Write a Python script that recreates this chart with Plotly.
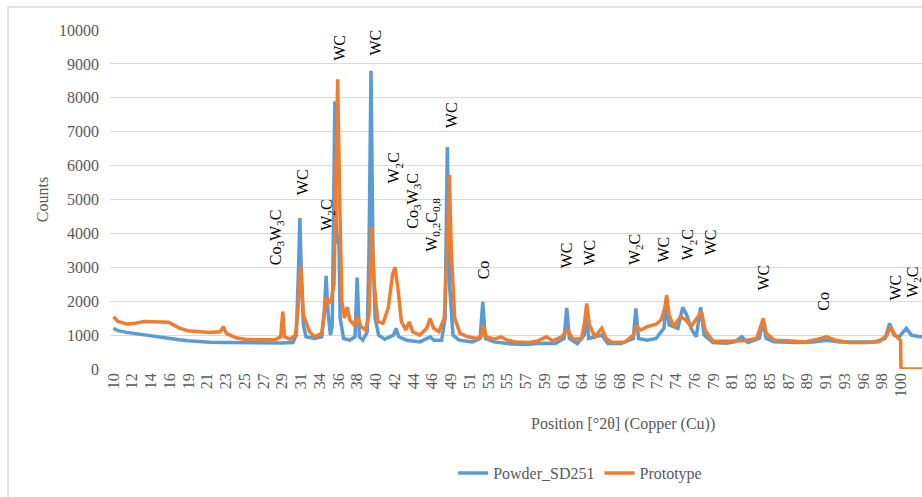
import plotly.graph_objects as go

# ---------------- data ----------------
powder_theta = [10.0, 10.5, 11.5, 12.5, 13.5, 14.5, 15.5, 16.5, 17.5, 18.5, 19.5, 21.0, 23.0, 25.0,
                27.0, 28.5, 29.3, 30.5, 30.9, 31.15, 31.3, 31.45, 31.7, 32.0, 33.0, 33.8, 34.1, 34.3,
                34.5, 34.8, 35.0, 35.15, 35.3, 35.45, 35.6, 35.75, 35.9, 36.3, 37.0, 37.6, 37.85, 38.1,
                38.5, 39.0, 39.2, 39.43, 39.65, 39.9, 40.3, 41.0, 42.0, 42.3, 42.6, 43.5, 45.0, 46.2,
                46.6, 47.5, 47.9, 48.15, 48.4, 48.8, 49.5, 51.0, 51.9, 52.2, 52.5, 53.5, 55.0, 57.0,
                59.0, 60.5, 61.5, 61.8, 62.1, 63.0, 63.8, 64.05, 64.3, 65.8, 66.5, 68.0, 69.4, 69.7,
                70.0, 71.0, 72.0, 72.9, 73.2, 73.5, 74.5, 75.05, 75.5, 76.0, 76.6, 77.1, 77.5, 78.5,
                80.0, 81.0, 81.8, 82.5, 83.8, 84.2, 84.6, 85.5, 88.0, 90.0, 91.5, 93.0, 95.0, 97.0,
                98.2, 98.7, 99.2, 99.8, 100.6, 101.2, 102.0, 102.6]
powder_counts = [1200, 1130, 1080, 1040, 1000, 960, 920, 890, 860, 830, 810, 790, 780, 770,
                 760, 760, 770, 780, 1000, 3000, 4450, 3000, 1300, 950, 900, 950, 1700, 2750,
                 1700, 1000, 1300, 4500, 7900, 4300, 3700, 3950, 1500, 900, 850, 950, 2700, 950,
                 850, 1100, 3500, 8800, 3500, 1500, 1000, 880, 1000, 1200, 950, 850, 800, 950,
                 850, 850, 1500, 6550, 2500, 1000, 850, 800, 900, 1980, 900, 800, 750, 720,
                 760, 750, 900, 1800, 900, 750, 1000, 1700, 900, 1000, 750, 750, 900, 1790,
                 900, 850, 900, 1200, 1930, 1300, 1200, 1820, 1600, 1200, 950, 1820, 1000, 780,
                 760, 800, 950, 780, 900, 1400, 900, 800, 780, 800, 850, 800, 790, 800,
                 900, 1350, 1000, 950, 1200, 1000, 960, 950]

proto_theta = [10.0, 10.5, 11.5, 12.5, 13.5, 14.5, 15.5, 16.3, 17.0, 17.6, 18.5, 19.5, 21.0, 22.2,
               22.55, 22.9, 24.0, 25.0, 26.5, 28.5, 29.1, 29.35, 29.55, 30.2, 30.8, 31.1, 31.4, 31.7,
               32.0, 32.4, 33.0, 33.8, 34.3, 34.8, 35.2, 35.45, 35.62, 35.85, 36.1, 36.4, 36.72, 37.0,
               37.5, 37.9, 38.3, 38.8, 39.2, 39.5, 39.8, 40.2, 40.8, 41.4, 41.9, 42.17, 42.5, 42.9,
               43.4, 43.8, 44.2, 45.0, 45.8, 46.17, 46.6, 47.2, 47.8, 48.2, 48.38, 48.6, 49.0, 49.6,
               50.5, 51.5, 52.0, 52.25, 52.6, 53.5, 54.3, 55.0, 56.0, 57.5, 58.5, 59.5, 60.2, 61.2,
               61.9, 62.5, 63.5, 63.85, 64.08, 64.4, 65.0, 65.8, 66.3, 67.0, 68.5, 69.4, 69.8, 70.3,
               71.0, 72.0, 72.6, 73.0, 73.22, 73.5, 74.0, 74.8, 75.4, 76.0, 76.7, 77.2, 77.6, 78.5,
               80.0, 82.0, 83.5, 84.0, 84.26, 84.6, 85.5, 87.0, 89.0, 90.5, 91.5, 92.5, 94.0, 96.0,
               97.5, 98.4, 98.8, 99.3, 99.95, 100.0, 102.6]
proto_counts = [1540, 1400, 1330, 1350, 1400, 1400, 1380, 1380, 1280, 1200, 1130, 1100, 1080, 1100,
                1250, 1050, 920, 880, 860, 870, 950, 1690, 950, 880, 1000, 1800, 3050, 1600,
                1350, 1100, 950, 1050, 2100, 1950, 2500, 6000, 8550, 5000, 2000, 1500, 1830, 1450,
                1300, 1540, 1250, 1150, 1600, 4200, 2500, 1400, 1350, 1800, 2800, 3000, 2400, 1400,
                1150, 1390, 1100, 1000, 1200, 1490, 1200, 1100, 1500, 4000, 5720, 3500, 1500, 1050,
                950, 900, 950, 1300, 950, 880, 950, 850, 800, 780, 830, 950, 830, 950,
                1150, 880, 900, 1400, 1930, 1300, 950, 1200, 900, 780, 800, 1000, 1250, 1150,
                1250, 1320, 1450, 1800, 2180, 1600, 1250, 1540, 1450, 1250, 1500, 1690, 1150, 820,
                820, 830, 900, 1300, 1490, 1050, 850, 830, 800, 880, 950, 850, 780, 780,
                800, 1000, 1250, 1000, 850, 0, 0]

tick_labels = ['10', '12', '14', '16', '19', '21', '23', '25', '27', '29', '31', '34', '36', '38',
               '40', '42', '44', '46', '49', '51', '53', '55', '57', '59', '61', '64', '66', '68',
               '70', '72', '74', '76', '79', '81', '83', '85', '87', '89', '91', '93', '96', '98',
               '100', '102']
tick_start = 10.0
tick_step = 90.0 / 42

y_tick_values = [0, 1000, 2000, 3000, 4000, 5000, 6000, 7000, 8000, 9000, 10000]
y_tick_labels = ['0', '1000', '2000', '3000', '4000', '5000', '6000', '7000', '8000', '9000', '10000']

phase_labels = ['Co<sub>3</sub>W<sub>3</sub>C', 'WC', 'W<sub>2</sub>C', 'WC', 'WC', 'W<sub>2</sub>C',
                'Co<sub>3</sub>W<sub>3</sub>C', 'W<sub>0,2</sub>C<sub>0,8</sub>', 'WC', 'Co',
                'WC', 'WC', 'W<sub>2</sub>C', 'WC', 'W<sub>2</sub>C', 'WC', 'WC', 'Co', 'WC', 'W<sub>2</sub>C']
phase_theta = [28.65, 31.62, 34.37, 35.81, 39.89, 42.17, 44.19, 46.37, 48.65, 52.26,
               61.79, 64.46, 69.6, 72.91, 75.69, 78.25, 84.34, 91.05, 99.43, 101.4]
phase_counts = [3877, 5500, 4541, 9484, 9631, 5943, 4954, 4246, 7477, 2918,
                3346, 3435, 3508, 3523, 3656, 3730, 2697, 2004, 2402, 2549]

# ---------------- styling ----------------
FONT = "Liberation Serif, Times New Roman, serif"
GRAY = "#595959"
BLUE = "#5b9bd5"
ORANGE = "#ed7d31"

fig = go.Figure()
fig.add_trace(go.Scatter(x=powder_theta, y=powder_counts, mode="lines", name="Powder_SD251",
                         line=dict(color=BLUE, width=3.5)))
fig.add_trace(go.Scatter(x=proto_theta, y=proto_counts, mode="lines", name="Prototype",
                         line=dict(color=ORANGE, width=3.5)))

for lab, tx, ty in zip(phase_labels, phase_theta, phase_counts):
    fig.add_annotation(x=tx, y=ty, text=lab, textangle=-90, showarrow=False,
                       xanchor="center", yanchor="middle",
                       font=dict(family=FONT, size=16, color="#000000"))

tickvals = [tick_start + i * tick_step for i in range(len(tick_labels))]

fig.update_layout(
    width=922, height=497,
    margin=dict(l=110, r=0, t=30, b=128),
    paper_bgcolor="white", plot_bgcolor="white",
    font=dict(family=FONT, size=16, color=GRAY),
    showlegend=True,
    legend=dict(orientation="h", x=0.579, xanchor="center", y=-0.307, yanchor="middle",
                font=dict(family=FONT, size=16, color=GRAY), itemwidth=30),
    xaxis=dict(range=[9.6, 102.4], tickmode="array", tickvals=tickvals, ticktext=tick_labels,
               tickangle=-90, showgrid=False, zeroline=False, showline=False, ticks="",
               tickfont=dict(family=FONT, size=16, color=GRAY)),
    yaxis=dict(range=[0, 10000], tickmode="array", tickvals=y_tick_values, ticktext=y_tick_labels,
               showgrid=True, gridcolor="#d9d9d9", gridwidth=1, zeroline=False, showline=False,
               ticks="", ticklabelstandoff=10,
               tickfont=dict(family=FONT, size=16, color=GRAY)),
)

fig.add_annotation(xref="paper", yref="paper", x=0.632, y=-0.1626, text="Position [°2θ] (Copper (Cu))",
                   showarrow=False, xanchor="center", yanchor="middle",
                   font=dict(family=FONT, size=16, color=GRAY))
fig.add_annotation(xref="paper", yref="paper", x=-0.0837, y=0.498, text="Counts", textangle=-90,
                   showarrow=False, xanchor="center", yanchor="middle",
                   font=dict(family=FONT, size=16, color=GRAY))

fig.add_shape(type="rect", xref="paper", yref="paper", x0=-0.1256, y0=-1.0, x1=2.0, y1=1.068,
              line=dict(color="#d9d9d9", width=1.5), fillcolor="rgba(0,0,0,0)", layer="below")

fig.write_html("out.html")
